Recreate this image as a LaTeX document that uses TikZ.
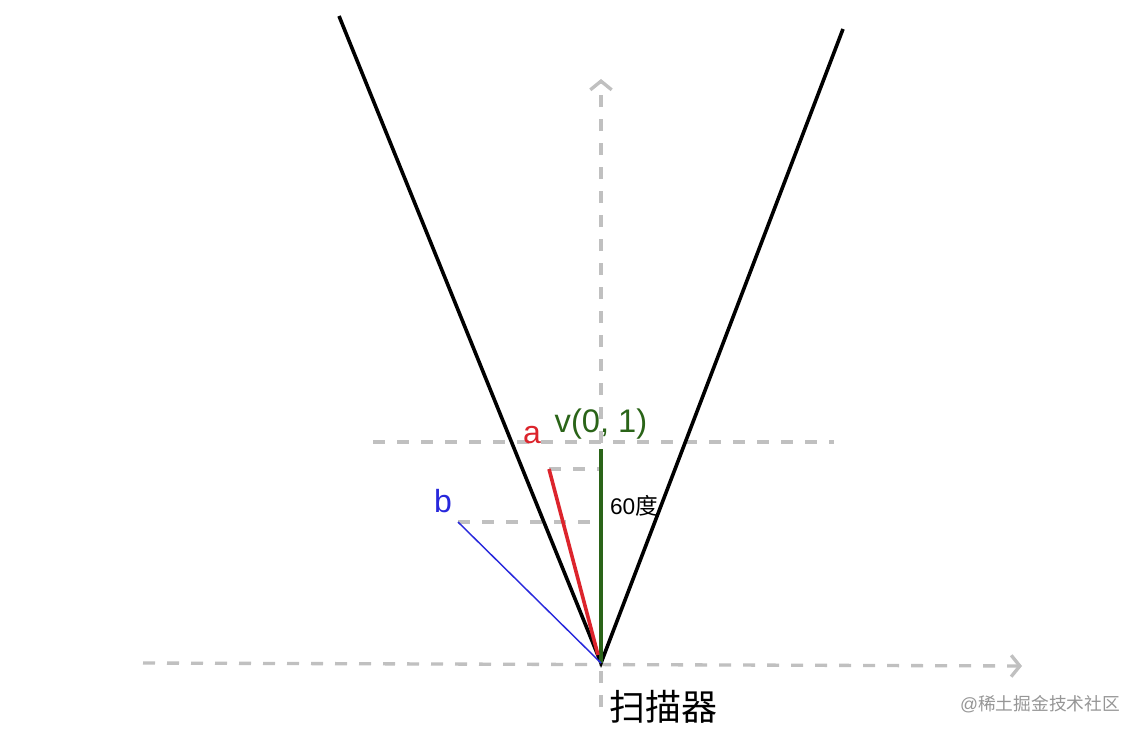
\documentclass[tikz,border=0pt]{standalone}
\usepackage{fontspec}
\setmainfont{Liberation Sans}
\newfontfamily\cjk{Noto Sans CJK SC}
\usepackage{xcolor}
\usetikzlibrary{arrows.meta,positioning,calc}

\definecolor{axisgray}{RGB}{192,192,192}
\definecolor{vgreen}{RGB}{42,100,24}
\definecolor{ared}{RGB}{220,36,44}
\definecolor{bblue}{RGB}{40,40,220}
\definecolor{markgray}{RGB}{150,150,150}

\begin{document}
\begin{tikzpicture}[x=0.75pt, y=-0.75pt,
    axis/.style={draw=axisgray, line width=2.5pt, dash pattern=on 9pt off 9pt},
    axisarrow/.style={axis, -{Straight Barb[length=6.5pt, width=16pt, line width=2.5pt]}},
    every node/.style={inner sep=0pt}]
    \useasboundingbox[fill=white] (0,0) rectangle (1142,735);

    % Scanner and coordinates
    \coordinate (scanner) at (601,663);
    \coordinate (xleft) at (143,663);
    \coordinate (xright) at (1022,666);
    \coordinate (ybottom) at (601,707);
    \coordinate (ytop) at (601,79);
    \coordinate (lefttop) at (339,16);
    \coordinate (righttop) at (843,29);
    \coordinate (vtip) at (601,449);
    \coordinate (atip) at (549,469);
    \coordinate (abase) at (598,655);
    \coordinate (btip) at (458,522);

    % Axes
    \draw[axisarrow] (xleft) -- (xright);
    \draw[axisarrow] (ybottom) -- (ytop);

    % Helper lines
    \coordinate (hleft) at (373,442);
    \coordinate (hright) at (834,442);
    \draw[axis] (hleft) -- (hright);
    \draw[axis] (atip) -- (atip -| vtip);
    \draw[axis] (btip) -- ($(btip -| vtip)+(-11,0)$);

    % Scan range
    \draw[line width=2.7pt, line join=miter] (lefttop) -- (scanner) -- (righttop);

    % Vectors
    \draw[vgreen, line width=2.7pt] (scanner) -- (vtip);
    \draw[ared, line width=2.7pt] (abase) -- (atip);
    \draw[bblue, line width=1.1pt] (scanner) -- (btip);

    % Labels
    \node[text=vgreen, font=\fontsize{24.5}{24.5}\selectfont] (vlabel) at (601,424) {v(0, 1)};
    \node[text=ared, font=\fontsize{24}{24}\selectfont] (alabel) at (532,435) {a};
    \node[text=bblue, font=\fontsize{24}{24}\selectfont] (blabel) at (443,501) {b};
    \node[font=\fontsize{17}{17}\selectfont] (angle) at (634,506) {60{\cjk 度}};
    \node[font=\cjk\fontsize{27}{27}\selectfont] (scannerlabel) at (663,707) {扫描器};
    \node[text=markgray, font=\fontsize{13.3}{13.3}\selectfont] (mark) at (1040,704) {@{\cjk 稀土掘金技术社区}};
\end{tikzpicture}
\end{document}
